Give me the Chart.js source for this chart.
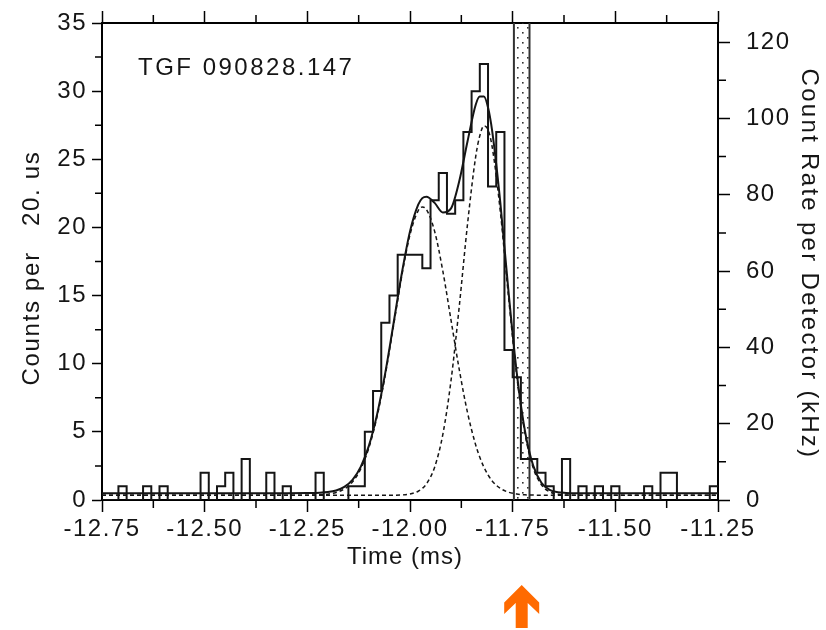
<!DOCTYPE html>
<html>
<head>
<meta charset="utf-8">
<script src="https://cdn.jsdelivr.net/npm/chart.js@4.4.1/dist/chart.umd.min.js"></script>
<style>
  html, body { margin: 0; padding: 0; background: #fff; }
</style>
</head>
<body>
<canvas id="tgf" width="826" height="630"></canvas>
<script>
// counts per 20 us bin, bins start at -12.75 ms
const binStart = -12.75;
const binWidth = 0.02;
const counts = [0,0,1,0,0,1,0,1,0,0, 0,0,2,0,1,2,0,3,0,0,
                2,0,1,0,0,0,2,0,0,0, 1,1,5,8,13,15,18,18,18,17,
                22,24,21,22,27,30,32,23,27,11, 9,3,3,2,1,0,3,0,1,0,
                1,0,1,0,0,0,1,0,2,2, 0,0,0,0,1];

// fit curves
const fitTime   = [-12.75,-12.50,-12.30,-12.25,-12.22,-12.20,-12.18,-12.16,-12.14,-12.12,
                   -12.10,-12.08,-12.06,-12.04,-12.02,-12.00,-11.98,-11.97,-11.96,-11.94,
                   -11.92,-11.90,-11.88,-11.86,-11.84,-11.83,-11.82,-11.81,-11.80,-11.78,
                   -11.76,-11.74,-11.72,-11.70,-11.68,-11.66,-11.64,-11.62,-11.60,-11.50,-11.25];
const fitTotal  = [0.5,0.5,0.5,0.51,0.53,0.58,0.70,0.96,1.48,2.43,
                   3.99,6.30,9.36,12.97,16.62,19.71,21.67,22.15,22.25,21.8,
                   21.1,21.4,23.4,26.3,29.0,29.6,29.6,28.8,27.1,21.8,
                   15.25,9.33,5.05,2.52,1.27,0.75,0.57,0.52,0.5,0.5,0.5];
const fitPulse1 = [0.35,0.35,0.35,0.355,0.38,0.43,0.55,0.81,1.33,2.28,
                   3.84,6.15,9.21,12.81,16.45,19.47,21.23,21.5,21.32,19.71,
                   16.79,13.18,9.56,6.42,4.03,3.13,2.41,1.84,1.40,0.85,
                   0.57,0.44,0.38,0.36,0.35,0.35,0.35,0.35,0.35,0.35,0.35];
const fitPulse2 = [0.35,0.35,0.35,0.35,0.35,0.35,0.35,0.35,0.35,0.35,
                   0.35,0.35,0.35,0.355,0.37,0.44,0.64,0.85,1.18,2.41,
                   4.82,8.79,14.22,20.23,25.20,26.73,27.44,27.17,25.93,21.15,
                   14.88,9.09,4.87,2.36,1.12,0.60,0.42,0.37,0.35,0.35,0.35];

const bandTime = [-11.747, -11.709];
const arrowTime = -11.728;
const label = 'TGF 090828.147';

const histPoints = counts.map((c, i) => ({x: binStart + i * binWidth, y: c}));
histPoints.push({x: binStart + counts.length * binWidth, y: counts[counts.length - 1]});

const ink = '#151515';
const fontFamily = '"Liberation Sans", Arial, sans-serif';
const font = {family: 'Liberation Sans, Arial, sans-serif', size: 24};

function dotPattern(ctx) {
  const c = document.createElement('canvas');
  c.width = 10; c.height = 10;
  const g = c.getContext('2d');
  g.fillStyle = '#333';
  g.fillRect(2, 2, 1.6, 1.6);
  g.fillRect(7, 7, 1.6, 1.6);
  return ctx.createPattern(c, 'repeat');
}

function spacedText(ctx, text, x, y, spacing) {
  ctx.letterSpacing = spacing;
  ctx.fillText(text, x, y);
}

// fixed box sizes so the plot frame lands where it is in the original
function fixBox(size) {
  return function (s) {
    if (s.isHorizontal()) s.height = size; else s.width = size;
    s.paddingTop = 0; s.paddingBottom = 0; s.paddingLeft = 0; s.paddingRight = 0;
  };
}

const extras = {
  id: 'extras',
  beforeDraw(chart) {
    chart.ctx.letterSpacing = '1.5px';
  },
  beforeDatasetsDraw(chart) {
    const {ctx, scales: {x, y}} = chart;
    const x0 = x.getPixelForValue(bandTime[0]);
    const x1 = x.getPixelForValue(bandTime[1]);
    const yt = y.getPixelForValue(35), yb = y.getPixelForValue(0);
    ctx.save();
    ctx.fillStyle = dotPattern(ctx);
    ctx.fillRect(x0, yt, x1 - x0, yb - yt);
    ctx.strokeStyle = '#333';
    ctx.lineWidth = 2;
    ctx.beginPath();
    ctx.moveTo(x0, yt); ctx.lineTo(x0, yb);
    ctx.moveTo(x1, yt); ctx.lineTo(x1, yb);
    ctx.stroke();
    ctx.restore();
  },
  afterDraw(chart) {
    const {ctx, chartArea: a, scales: {x, y, y2}} = chart;
    ctx.save();
    ctx.strokeStyle = '#000';
    ctx.lineWidth = 1.5;
    ctx.beginPath();
    // minor ticks
    for (let v = -12.625; v < -11.25; v += 0.25) {
      const px = x.getPixelForValue(v);
      ctx.moveTo(px, a.bottom); ctx.lineTo(px, a.bottom + 8);
      ctx.moveTo(px, a.top); ctx.lineTo(px, a.top - 8);
    }
    for (let v = 2.5; v < 35; v += 5) {
      const py = y.getPixelForValue(v);
      ctx.moveTo(a.left, py); ctx.lineTo(a.left - 7, py);
    }
    for (let v = 10; v < 125; v += 20) {
      const py = y2.getPixelForValue(v);
      ctx.moveTo(a.right, py); ctx.lineTo(a.right + 8, py);
    }
    ctx.stroke();

    ctx.fillStyle = ink;
    ctx.font = '24px ' + fontFamily;
    ctx.textBaseline = 'middle';
    ctx.textAlign = 'left';
    spacedText(ctx, label, 138, 68, '2.5px');
    ctx.textAlign = 'center';
    spacedText(ctx, 'Time (ms)', 405, 557, '1px');

    ctx.save();
    ctx.translate(32, 268);
    ctx.rotate(-Math.PI / 2);
    spacedText(ctx, 'Counts per   20. us', 0, 0, '1.7px');
    ctx.restore();

    ctx.save();
    ctx.translate(809, 264);
    ctx.rotate(Math.PI / 2);
    spacedText(ctx, 'Count Rate per Detector (kHz)', 0, 0, '2.3px');
    ctx.restore();

    // orange arrow under the shaded interval
    const cx = x.getPixelForValue(arrowTime);
    const tip = a.bottom + 85;
    ctx.fillStyle = '#ff6a00';
    ctx.beginPath();
    ctx.moveTo(cx, tip);
    ctx.lineTo(cx + 17.5, tip + 17.5);
    ctx.lineTo(cx + 17.5, tip + 29);
    ctx.lineTo(cx + 6, tip + 18);
    ctx.lineTo(cx + 6, tip + 43);
    ctx.lineTo(cx - 6, tip + 43);
    ctx.lineTo(cx - 6, tip + 18);
    ctx.lineTo(cx - 17.5, tip + 29);
    ctx.lineTo(cx - 17.5, tip + 17.5);
    ctx.closePath();
    ctx.fill();
    ctx.restore();
  }
};

const gridOpts = len => ({drawOnChartArea: false, drawTicks: true, tickLength: len, tickWidth: 1.5, tickColor: '#000'});
const borderOpts = {display: true, color: '#000', width: 2};

new Chart(document.getElementById('tgf'), {
  type: 'line',
  data: {
    datasets: [
      {label: 'counts', data: histPoints, stepped: true, borderColor: ink, borderWidth: 2,
       pointRadius: 0, fill: false, borderJoinStyle: 'miter'},
      {label: 'fit', data: fitTime.map((t, i) => ({x: t, y: fitTotal[i]})), borderColor: ink,
       borderWidth: 2, pointRadius: 0, fill: false, cubicInterpolationMode: 'monotone'},
      {label: 'pulse 1', data: fitTime.map((t, i) => ({x: t, y: fitPulse1[i]})), borderColor: ink,
       borderWidth: 1.5, borderDash: [4, 3], pointRadius: 0, fill: false, cubicInterpolationMode: 'monotone'},
      {label: 'pulse 2', data: fitTime.map((t, i) => ({x: t, y: fitPulse2[i]})), borderColor: ink,
       borderWidth: 1.5, borderDash: [4, 3], pointRadius: 0, fill: false, cubicInterpolationMode: 'monotone'}
    ]
  },
  options: {
    responsive: false,
    animation: false,
    devicePixelRatio: 1,
    layout: {padding: 0},
    plugins: {legend: {display: false}, tooltip: {enabled: false}},
    scales: {
      x: {type: 'linear', position: 'bottom', min: -12.75, max: -11.25,
          ticks: {stepSize: 0.25, autoSkip: false, maxRotation: 0, padding: 3, color: ink, font: font,
                  callback: v => v.toFixed(2)},
          grid: gridOpts(12), border: borderOpts,
          afterFit: fixBox(130)},
      xTop: {type: 'linear', position: 'top', min: -12.75, max: -11.25,
          ticks: {stepSize: 0.25, display: false},
          grid: gridOpts(12), border: borderOpts,
          afterFit: fixBox(23)},
      y: {type: 'linear', position: 'left', min: 0, max: 35,
          ticks: {stepSize: 5, padding: 5, color: ink, font: font},
          grid: gridOpts(10), border: borderOpts,
          afterFit: fixBox(102)},
      y2: {type: 'linear', position: 'right', min: 0, max: 125,
          ticks: {stepSize: 20, includeBounds: false, padding: 16, color: ink, font: font},
          grid: gridOpts(12), border: borderOpts,
          afterFit: fixBox(108)}
    }
  },
  plugins: [extras]
});
</script>
</body>
</html>
